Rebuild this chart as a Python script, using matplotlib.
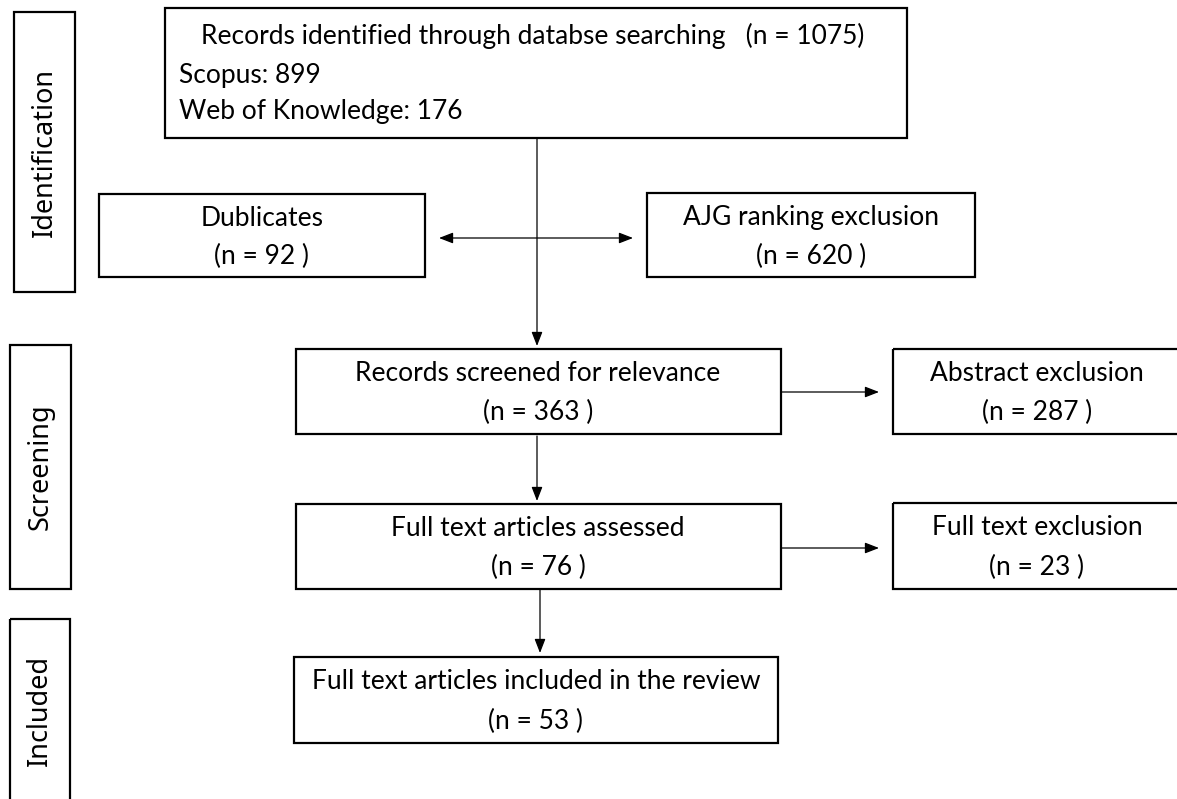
import matplotlib
matplotlib.use("Agg")
import matplotlib.pyplot as plt
from matplotlib.patches import Rectangle

# ---- data ----
stages = ["Identification", "Screening", "Included"]
total_records = 1075
scopus_n = 899
wok_n = 176
duplicates_n = 92
ajg_excl_n = 620
screened_n = 363
abstract_excl_n = 287
fulltext_n = 76
fulltext_excl_n = 23
included_n = 53

box_titles = {
    "dup": "Dublicates",
    "ajg": "AJG ranking exclusion",
    "scr": "Records screened for relevance",
    "abs": "Abstract exclusion",
    "ft": "Full text articles assessed",
    "fte": "Full text exclusion",
    "inc": "Full text articles included in the review",
}
box_counts = {
    "dup": duplicates_n, "ajg": ajg_excl_n, "scr": screened_n,
    "abs": abstract_excl_n, "ft": fulltext_n, "fte": fulltext_excl_n,
    "inc": included_n,
}

# ---- layout (pixel coordinates, y downward) ----
W, H = 1177, 799
fig = plt.figure(figsize=(W / 100, H / 100), dpi=100)
ax = fig.add_axes([0, 0, 1, 1])
ax.set_xlim(0, W)
ax.set_ylim(H, 0)
ax.axis("off")

FONT = "Lato"
FS = 19.0
BOX_LW = 1.6
ARR_LW = 0.9

def box(x0, y0, x1, y1):
    ax.add_patch(Rectangle((x0, y0), x1 - x0, y1 - y0, fill=False,
                           edgecolor="black", lw=BOX_LW, clip_on=False))

boxes = {
    "dup": (99, 194, 425, 277),
    "ajg": (647, 193, 975, 277),
    "scr": (296, 349, 781, 434),
    "abs": (893, 349, 1200, 434),
    "ft": (296, 504, 781, 589),
    "fte": (893, 503, 1200, 589),
    "inc": (294, 657, 778, 743),
}
centers_x = {"dup": 262, "ajg": 811, "scr": 538, "abs": 1037,
             "ft": 538, "fte": 1037, "inc": 536}

for k, (x0, y0, x1, y1) in boxes.items():
    box(x0, y0, x1, y1)
    cx = centers_x[k]
    ax.text(cx, y0 + 0.29 * (y1 - y0), box_titles[k], ha="center", va="center",
            fontsize=FS, family=FONT)
    ax.text(cx, y0 + 0.75 * (y1 - y0), f"(n = {box_counts[k]} )", ha="center",
            va="center", fontsize=FS, family=FONT)

# top box
box(165, 8, 907, 138)
ax.text(201, 36, f"Records identified through databse searching   (n = {total_records})",
        ha="left", va="center", fontsize=FS, family=FONT)
ax.text(179, 75, f"Scopus: {scopus_n}", ha="left", va="center", fontsize=FS, family=FONT)
ax.text(179, 112, f"Web of Knowledge: {wok_n}", ha="left", va="center",
        fontsize=FS, family=FONT)

# stage side boxes
stage_boxes = [(14, 12, 75, 292), (10, 345, 71, 589), (10, 619, 70, 830)]
stage_cy = [152, 467, 710]
for name, (x0, y0, x1, y1), cy in zip(stages, stage_boxes, stage_cy):
    box(x0, y0, x1, y1)
    ax.text((x0 + x1) / 2, cy, name, rotation=90, ha="center", va="center",
            fontsize=19.5, family="Noto Sans")

# arrows
def arrow(x0, y0, x1, y1, style="-|>"):
    ax.annotate("", xy=(x1, y1), xytext=(x0, y0),
                arrowprops=dict(arrowstyle=style + ",head_length=0.85,head_width=0.33",
                                lw=ARR_LW, color="black", shrinkA=0, shrinkB=0))

arrow(537, 138, 537, 346)
arrow(439, 238, 633, 238, style="<|-|>")
arrow(537, 436, 537, 501)
arrow(540, 589, 540, 653)
arrow(781, 392, 879, 392)
arrow(781, 548, 879, 548)

fig.savefig("out.png", dpi=100)
